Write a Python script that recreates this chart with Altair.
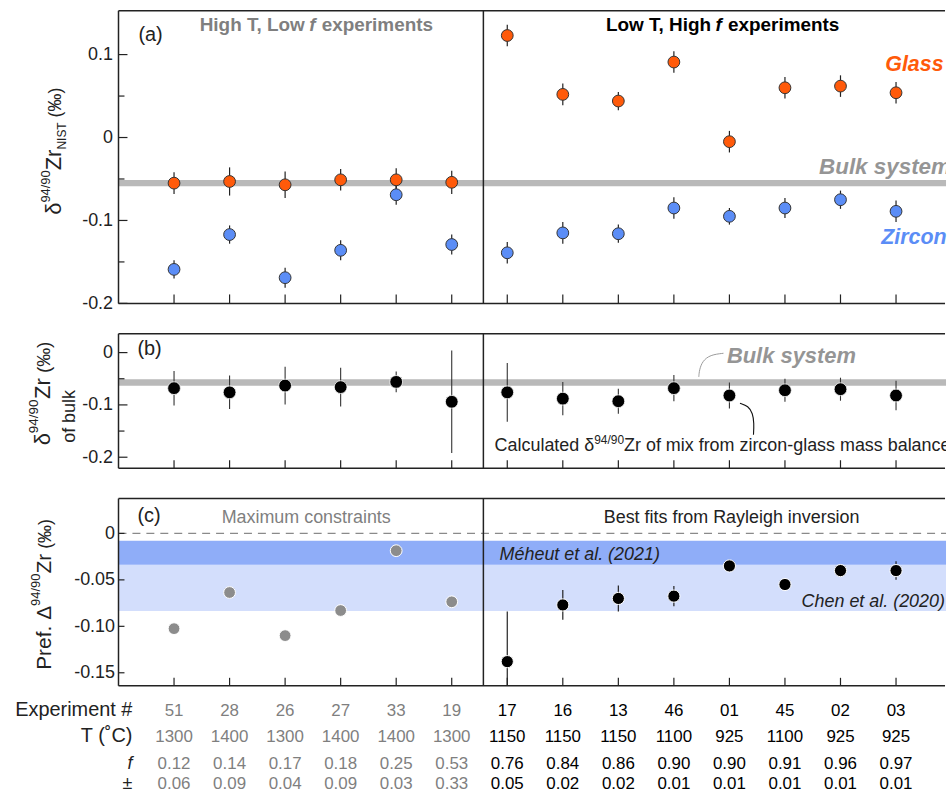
import altair as alt
import pandas as pd

# ---------------- data ----------------
experiments = ["51", "28", "26", "27", "33", "19", "17", "16", "13", "46", "01", "45", "02", "03"]
temperatures = ["1300", "1400", "1300", "1400", "1400", "1300", "1150", "1150", "1150", "1100", "925", "1100", "925", "925"]
f_values = ["0.12", "0.14", "0.17", "0.18", "0.25", "0.53", "0.76", "0.84", "0.86", "0.90", "0.90", "0.91", "0.96", "0.97"]
f_errors = ["0.06", "0.09", "0.04", "0.09", "0.03", "0.33", "0.05", "0.02", "0.02", "0.01", "0.01", "0.01", "0.01", "0.01"]

glass = [-0.055, -0.053, -0.057, -0.051, -0.051, -0.054, 0.123, 0.052, 0.044, 0.091, -0.005, 0.060, 0.062, 0.054]
glass_err = [0.013, 0.017, 0.016, 0.013, 0.014, 0.014, 0.013, 0.013, 0.011, 0.013, 0.013, 0.013, 0.013, 0.013]
zircon = [-0.159, -0.117, -0.169, -0.136, -0.069, -0.129, -0.139, -0.115, -0.116, -0.085, -0.095, -0.085, -0.075, -0.089]
zircon_err = [0.011, 0.011, 0.012, 0.012, 0.012, 0.012, 0.013, 0.013, 0.011, 0.013, 0.010, 0.012, 0.011, 0.013]
mix = [-0.068, -0.076, -0.063, -0.066, -0.056, -0.094, -0.076, -0.088, -0.093, -0.068, -0.082, -0.072, -0.070, -0.082]
mix_err = [0.033, 0.032, 0.036, 0.037, 0.020, 0.098, 0.056, 0.032, 0.024, 0.025, 0.025, 0.022, 0.022, 0.028]
pref = [-0.1025, -0.0636, -0.110, -0.083, -0.0186, -0.0736, -0.138, -0.077, -0.070, -0.0675, -0.035, -0.055, -0.040, -0.040]
pref_err = [0, 0, 0, 0, 0, 0, 0.054, 0.016, 0.014, 0.011, 0.003, 0.003, 0.005, 0.010]

bulk_a = -0.055
bulk_b = -0.057
meheut_band = [-0.008, -0.0336]
chen_band = [-0.0336, -0.0835]
divider_pos = 5.57

bulk_leader_x = [9.893, 9.655, 9.5125, 9.458, 9.449]
bulk_leader_y = [-0.0013, -0.0042, -0.0165, -0.0336, -0.0463]
mix_arrow_x = [10.19, 10.34, 10.42, 10.444, 10.433]
mix_arrow_y = [-0.0968, -0.102, -0.116, -0.135, -0.157]

# ---------------- styling ----------------
W = 831
HA, HB, HC = 294, 135, 188
FONT = "Liberation Sans"
INK = "#222222"
GRAY = "#7f7f7f"
LGRAY = "#959595"
ORANGE = "#FF5A0A"
BLUE = "#5B8DF6"

n = len(experiments)
df = pd.DataFrame({
    "i": list(range(n)), "exp": experiments, "T": temperatures, "f": f_values, "fe": f_errors,
    "glass": glass, "glass_err": glass_err, "zircon": zircon, "zircon_err": zircon_err,
    "mix": mix, "mix_err": mix_err, "pref": pref, "pref_err": pref_err,
})
for c in ["glass", "zircon", "mix", "pref"]:
    df[c + "_lo"] = df[c] - df[c + "_err"]
    df[c + "_hi"] = df[c] + df[c + "_err"]
df["side"] = ["L" if k < 6 else "R" for k in range(n)]

xs = alt.Scale(domain=[-1, 13.9], nice=False, zero=False)
X = alt.X("i:Q", scale=xs, axis=None)
one = pd.DataFrame({"k": [0]})


def txt(text, x, y, size, color=INK, weight="normal", style="normal", align="left",
        baseline="alphabetic", angle=0, clip=False):
    return alt.Chart(pd.DataFrame({"t": [text]})).mark_text(
        align=align, baseline=baseline, font=FONT, fontSize=size, fontWeight=weight,
        fontStyle=style, color=color, angle=angle, clip=clip
    ).encode(text="t:N", x=alt.value(x), y=alt.value(y))


def frame(H):
    b = alt.Chart(one)
    return [
        b.mark_rule(color=INK, strokeWidth=1.5).encode(x=alt.value(0), x2=alt.value(W - 1), y=alt.value(0)),
        b.mark_rule(color=INK, strokeWidth=1.5).encode(x=alt.value(0), x2=alt.value(W - 1), y=alt.value(H)),
        b.mark_rule(color=INK, strokeWidth=1.5).encode(x=alt.value(0), y=alt.value(0), y2=alt.value(H)),
    ]


def divider():
    return alt.Chart(pd.DataFrame({"i": [divider_pos]})).mark_rule(color=INK, strokeWidth=1.5).encode(x=X)


def xticks(H, L):
    return alt.Chart(pd.DataFrame({"i": list(range(n))})).mark_rule(color=INK, strokeWidth=1.2).encode(
        x=X, y=alt.value(H), y2=alt.value(H - L))


def yaxis(values, fmt, pad):
    return alt.Axis(values=values, title=None, grid=False, ticks=False, tickSize=0, domain=False,
                    labelFont=FONT, labelFontSize=18, labelColor=INK, labelPadding=pad,
                    labelExpr="datum.value == 0 ? '0' : replace(format(datum.value, '%s'), '\u2212', '-')" % fmt)


def yticks(vals, ys, ax, L):
    return alt.Chart(pd.DataFrame({"v": vals})).mark_rule(color=INK, strokeWidth=1.2).encode(
        y=alt.Y("v:Q", scale=ys, axis=ax), x=alt.value(0), x2=alt.value(L))


def errbars(col, ys, ax, color=INK, width=1.2, data=None, clip=False):
    return alt.Chart(df if data is None else data).mark_rule(color=color, strokeWidth=width, clip=clip).encode(
        x=X, y=alt.Y(col + "_lo:Q", scale=ys, axis=ax), y2=col + "_hi:Q")


def rot(pieces):
    # pieces: (text, x, y, size)
    return [txt(t, x, y, s, angle=270) for (t, x, y, s) in pieces]


# ---------------- panel (a) ----------------
ya = alt.Scale(domain=[-0.2, 0.153], nice=False, zero=False)
ax_a = yaxis([0.1, 0, -0.1, -0.2], ".1f", 6)
band_a = alt.Chart(pd.DataFrame({"v": [bulk_a]})).mark_rule(color="#b9b9b9", strokeWidth=6.5).encode(
    y=alt.Y("v:Q", scale=ya, axis=ax_a), x=alt.value(0), x2=alt.value(W))
pts_glass = alt.Chart(df).mark_circle(size=140, fill=ORANGE, stroke="#333333", strokeWidth=1, opacity=1).encode(
    x=X, y=alt.Y("glass:Q", scale=ya, axis=ax_a))
pts_zircon = alt.Chart(df).mark_circle(size=140, fill=BLUE, stroke="#333333", strokeWidth=1, opacity=1).encode(
    x=X, y=alt.Y("zircon:Q", scale=ya, axis=ax_a))
anchor = alt.Chart(one).mark_rule(strokeOpacity=0, strokeWidth=1).encode(
    x=alt.value(-118.5), y=alt.value(-8.5), y2=alt.value(-8))

panel_a = alt.layer(
    band_a, divider(), errbars("glass", ya, ax_a), errbars("zircon", ya, ax_a), pts_glass, pts_zircon,
    yticks([0.1, 0, -0.1, -0.2], ya, ax_a, 9), yticks([0.05, -0.05, -0.15], ya, ax_a, 6), xticks(HA, 9),
    *frame(HA),
    txt("(a)", 20, 30, 20),
    txt("High T, Low", 187, 20.3, 19, GRAY, "bold", align="right"),
    txt("f", 191.5, 20.3, 19, GRAY, "bold", "italic"),
    txt("experiments", 204, 20.3, 19, GRAY, "bold"),
    txt("Low T, High", 595, 20.3, 19, "#000000", "bold", align="right"),
    txt("f", 599.5, 20.3, 19, "#000000", "bold", "italic"),
    txt("experiments", 612, 20.3, 19, "#000000", "bold"),
    txt("Glass", 770, 60.3, 21.5, ORANGE, "bold", "italic"),
    txt("Bulk system", 703.5, 164.3, 22.5, LGRAY, "bold", "italic", clip=True),
    txt("Zircon", 766, 234.3, 21.5, BLUE, "bold", "italic"),
    *rot([("\u03b4", -57.3, 205, 22),
          ("94/90", -69, 192.8, 13),
          ("Zr", -57.3, 160.3, 22),
          ("NIST", -52.3, 139.5, 12),
          ("(\u2030)", -57.3, 107.2, 18)]),
    anchor,
).properties(width=W, height=HA)

# ---------------- panel (b) ----------------
yb = alt.Scale(domain=[-0.221, 0.036], nice=False, zero=False)
ax_b = yaxis([0, -0.1, -0.2], ".1f", 6)
band_b = alt.Chart(pd.DataFrame({"v": [bulk_b]})).mark_rule(color="#b9b9b9", strokeWidth=6.5).encode(
    y=alt.Y("v:Q", scale=yb, axis=ax_b), x=alt.value(0), x2=alt.value(W))
pts_mix = alt.Chart(df).mark_circle(size=165, fill="#000000", stroke="#ffffff", strokeWidth=0.8, opacity=1).encode(
    x=X, y=alt.Y("mix:Q", scale=yb, axis=ax_b))
leader = alt.Chart(pd.DataFrame({"k": range(5), "i": bulk_leader_x, "v": bulk_leader_y})).mark_line(
    color="#9a9a9a", strokeWidth=1, interpolate="basis").encode(
    x=X, y=alt.Y("v:Q", scale=yb, axis=ax_b), order="k:Q")
arrow = alt.Chart(pd.DataFrame({"k": range(5), "i": mix_arrow_x, "v": mix_arrow_y})).mark_line(
    color="#111111", strokeWidth=1.1, interpolate="basis").encode(
    x=X, y=alt.Y("v:Q", scale=yb, axis=ax_b), order="k:Q")

panel_b = alt.layer(
    band_b, divider(), errbars("mix", yb, ax_b, color="#333333", width=1.1), pts_mix, leader, arrow,
    yticks([0, -0.1, -0.2], yb, ax_b, 9), yticks([-0.05, -0.15], yb, ax_b, 6), xticks(HB, 8),
    *frame(HB),
    txt("(b)", 19, 21.5, 20),
    txt("Bulk system", 611, 29.3, 22, LGRAY, "bold", "italic"),
    txt("Calculated \u03b4", 377.7, 117.7, 18),
    txt("94/90", 477.7, 110.7, 12),
    txt("Zr of mix from zircon-glass mass balance", 507.7, 117.7, 18, clip=True),
    *rot([("\u03b4", -69, 112, 22),
          ("94/90", -80.5, 99.8, 13.5),
          ("Zr", -69, 65.5, 22),
          ("(\u2030)", -69, 39.5, 19)]),
    txt("of bulk", -44, 83, 18, align="center", angle=270),
).properties(width=W, height=HB)

# ---------------- panel (c) ----------------
yc = alt.Scale(domain=[-0.164, 0.0375], nice=False, zero=False)
ax_c = yaxis([0, -0.05, -0.1, -0.15], ".2f", 4)
bands = alt.Chart(pd.DataFrame({"lo": [chen_band[1], meheut_band[1]], "hi": [chen_band[0], meheut_band[0]],
                                "name": ["Chen", "Meheut"]})).mark_rect(opacity=1).encode(
    y=alt.Y("lo:Q", scale=yc, axis=ax_c), y2="hi:Q", x=alt.value(0), x2=alt.value(W),
    color=alt.Color("name:N", scale=alt.Scale(domain=["Chen", "Meheut"], range=["#D3DEFC", "#8FADF8"]), legend=None))
zero_line = alt.Chart(pd.DataFrame({"v": [0]})).mark_rule(color="#8a8a8a", strokeWidth=1.2, strokeDash=[8, 6]).encode(
    y=alt.Y("v:Q", scale=yc, axis=ax_c), x=alt.value(0), x2=alt.value(W))
left_df = df[df["side"] == "L"]
right_df = df[df["side"] == "R"]
pts_left = alt.Chart(left_df).mark_circle(size=140, fill="#8c8c8c", stroke="#ffffff", strokeWidth=1, opacity=1).encode(
    x=X, y=alt.Y("pref:Q", scale=yc, axis=ax_c))
pts_right = alt.Chart(right_df).mark_circle(size=150, fill="#000000", stroke="#ffffff", strokeWidth=1, opacity=1).encode(
    x=X, y=alt.Y("pref:Q", scale=yc, axis=ax_c))

row_y = [218, 244.5, 271.5, 292]
row_labels = [("Experiment #", "normal", 20), ("T (\u02daC)", "normal", 20), ("f", "italic", 18), ("\u00b1", "normal", 18)]
row_cols = ["exp", "T", "f", "fe"]
table_layers = []
for (lab, st, fs), ry, col in zip(row_labels, row_y, row_cols):
    table_layers.append(txt(lab, 14, ry, fs, style=st, align="right"))
    for sub, colr in [(left_df, GRAY), (right_df, "#000000")]:
        table_layers.append(alt.Chart(sub).mark_text(
            align="center", baseline="alphabetic", font=FONT, fontSize=17, color=colr).encode(
            x=X, y=alt.value(ry), text=col + ":N"))

panel_c = alt.layer(
    bands, zero_line, divider(), errbars("pref", yc, ax_c, data=right_df, clip=True), pts_left, pts_right,
    yticks([0, -0.05, -0.1, -0.15], yc, ax_c, 6), xticks(HC, 8),
    *frame(HC),
    txt("(c)", 19, 24, 20),
    txt("Maximum constraints", 188.5, 24.3, 18, GRAY, align="center"),
    txt("Best fits from Rayleigh inversion", 615.7, 24.3, 18, INK, align="center"),
    txt("M\u00e9heut et al. (2021)", 382.7, 62, 18, INK, style="italic"),
    txt("Chen et al. (2020)", 686, 109.3, 18, INK, style="italic"),
    *rot([("Pref.", -67.3, 172, 21),
          ("\u0394", -67.3, 121.8, 21),
          ("94/90", -79, 107.8, 13),
          ("Zr", -67.3, 75.3, 21),
          ("(\u2030)", -67.3, 50.5, 18)]),
    *table_layers,
).properties(width=W, height=HC)

chart = alt.vconcat(panel_a, panel_b, panel_c, spacing=30.5, bounds="flush").resolve_scale(
    x="independent", y="independent", color="independent"
).configure_view(stroke=None).properties(
    padding={"left": 0, "right": 0, "top": 0, "bottom": 0}
)

chart.save("out.html", embed_options={"renderer": "svg", "actions": False})
